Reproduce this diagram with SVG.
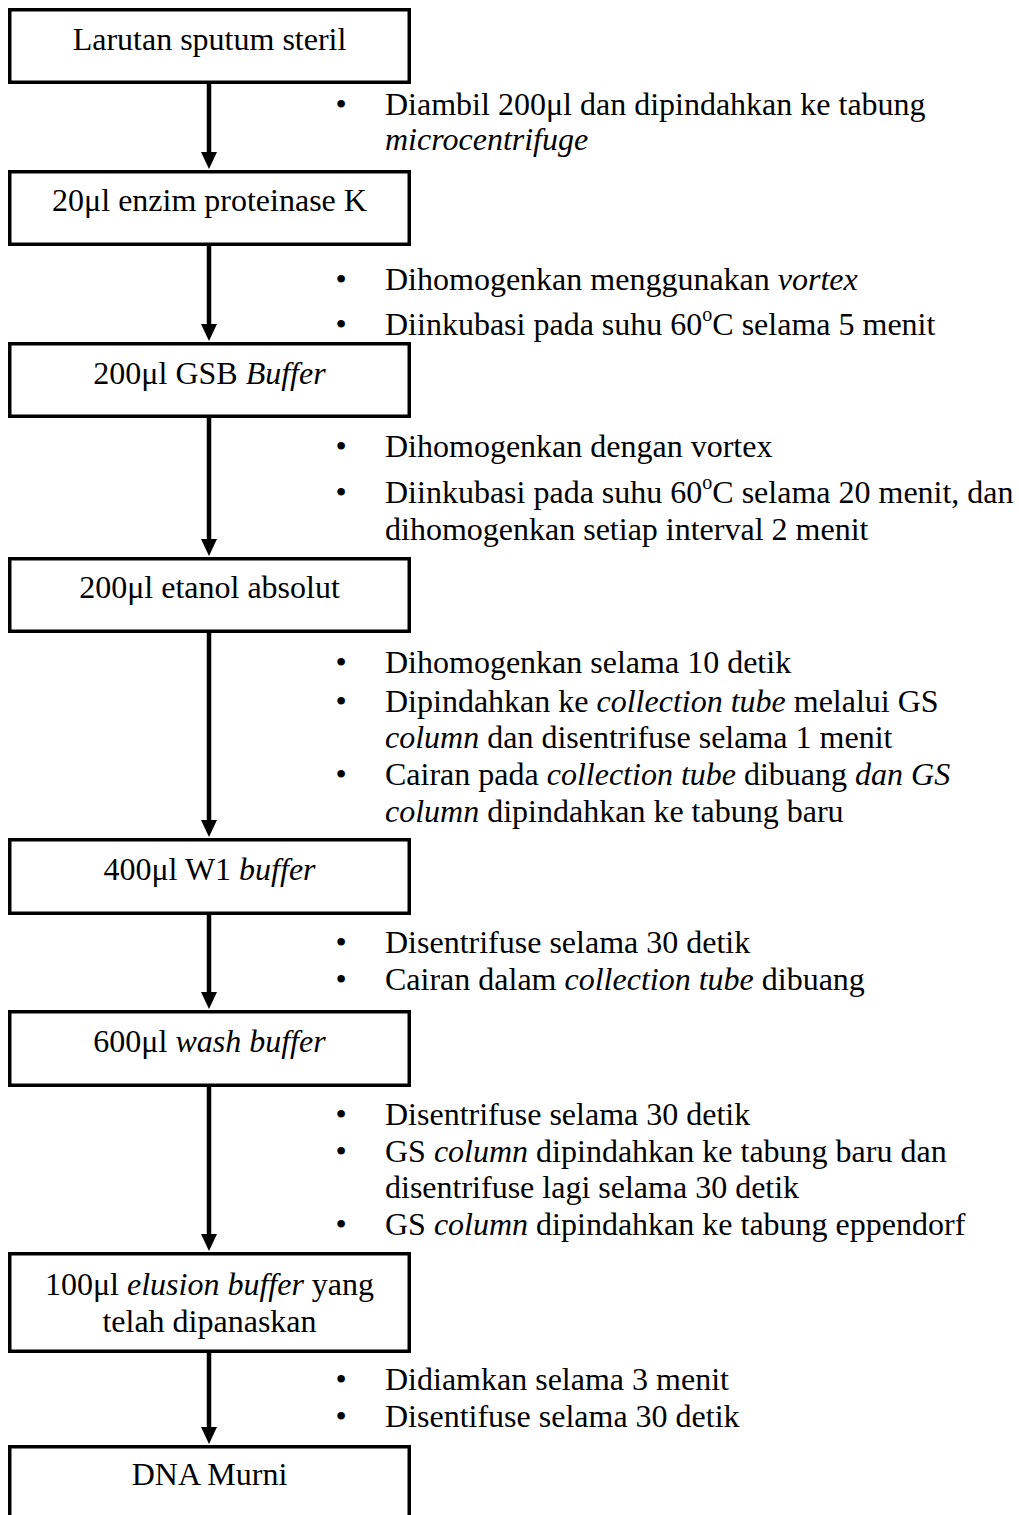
<svg xmlns="http://www.w3.org/2000/svg" width="1019" height="1515" viewBox="0 0 1019 1515">
<style>
text { font-family: "Liberation Serif", "Times New Roman", serif; font-size: 32px; fill: #000; }
.c { text-anchor: middle; }
.i { font-style: italic; }
.sup { font-size: 20px; }
.box { fill: #fff; stroke: #000; stroke-width: 3.5; }
.ln { stroke: #000; stroke-width: 4.5; fill: none; }
.hd { fill: #000; }
</style>
<rect width="1019" height="1515" fill="#fff"/>
<g id="connectors">
  <line class="ln" x1="209" y1="84" x2="209" y2="155"/><polygon class="hd" points="201,152 217,152 209,169"/>
  <line class="ln" x1="209" y1="246" x2="209" y2="327"/><polygon class="hd" points="201,324 217,324 209,341"/>
  <line class="ln" x1="209" y1="418" x2="209" y2="542"/><polygon class="hd" points="201,539 217,539 209,556"/>
  <line class="ln" x1="209" y1="633" x2="209" y2="823"/><polygon class="hd" points="201,820 217,820 209,837"/>
  <line class="ln" x1="209" y1="915" x2="209" y2="995"/><polygon class="hd" points="201,992 217,992 209,1009"/>
  <line class="ln" x1="209" y1="1087" x2="209" y2="1237"/><polygon class="hd" points="201,1234 217,1234 209,1251"/>
  <line class="ln" x1="209" y1="1353" x2="209" y2="1430"/><polygon class="hd" points="201,1427 217,1427 209,1444"/>
</g>
<g id="node1">
  <rect class="box" x="9.75" y="9.75" width="399.5" height="72.5"/>
  <text class="c" x="209.5" y="50">Larutan sputum steril</text>
</g>
<g id="note1">
  <text x="341" y="115" class="c">•</text>
  <text x="385" y="115">Diambil 200μl dan dipindahkan ke tabung</text>
  <text x="385" y="150" class="i">microcentrifuge</text>
</g>
<g id="node2">
  <rect class="box" x="9.75" y="171.75" width="399.5" height="72.5"/>
  <text class="c" x="209.5" y="211">20μl enzim proteinase K</text>
</g>
<g id="note2">
  <text x="341" y="290" class="c">•</text>
  <text x="385" y="290">Dihomogenkan menggunakan <tspan class="i">vortex</tspan></text>
  <text x="341" y="335" class="c">•</text>
  <text x="385" y="335">Diinkubasi pada suhu 60<tspan class="sup" dy="-14">o</tspan><tspan dy="14">C selama 5 menit</tspan></text>
</g>
<g id="node3">
  <rect class="box" x="9.75" y="343.75" width="399.5" height="72.5"/>
  <text class="c" x="209.5" y="384">200μl GSB <tspan class="i">Buffer</tspan></text>
</g>
<g id="note3">
  <text x="341" y="457" class="c">•</text>
  <text x="385" y="457">Dihomogenkan dengan vortex</text>
  <text x="341" y="503" class="c">•</text>
  <text x="385" y="503">Diinkubasi pada suhu 60<tspan class="sup" dy="-14">o</tspan><tspan dy="14">C selama 20 menit, dan</tspan></text>
  <text x="385" y="540">dihomogenkan setiap interval 2 menit</text>
</g>
<g id="node4">
  <rect class="box" x="9.75" y="558.75" width="399.5" height="72.5"/>
  <text class="c" x="209.5" y="598">200μl etanol absolut</text>
</g>
<g id="note4">
  <text x="341" y="673" class="c">•</text>
  <text x="385" y="673">Dihomogenkan selama 10 detik</text>
  <text x="341" y="712" class="c">•</text>
  <text x="385" y="712">Dipindahkan ke <tspan class="i">collection tube</tspan> melalui GS</text>
  <text x="385" y="748"><tspan class="i">column</tspan> dan disentrifuse selama 1 menit</text>
  <text x="341" y="785" class="c">•</text>
  <text x="385" y="785">Cairan pada <tspan class="i">collection tube</tspan> dibuang <tspan class="i">dan GS</tspan></text>
  <text x="385" y="822"><tspan class="i">column</tspan> dipindahkan ke tabung baru</text>
</g>
<g id="node5">
  <rect class="box" x="9.75" y="839.75" width="399.5" height="73.5"/>
  <text class="c" x="209.5" y="880">400μl W1 <tspan class="i">buffer</tspan></text>
</g>
<g id="note5">
  <text x="341" y="953" class="c">•</text>
  <text x="385" y="953">Disentrifuse selama 30 detik</text>
  <text x="341" y="990" class="c">•</text>
  <text x="385" y="990">Cairan dalam <tspan class="i">collection tube</tspan> dibuang</text>
</g>
<g id="node6">
  <rect class="box" x="9.75" y="1011.75" width="399.5" height="73.5"/>
  <text class="c" x="209.5" y="1052">600μl <tspan class="i">wash buffer</tspan></text>
</g>
<g id="note6">
  <text x="341" y="1125" class="c">•</text>
  <text x="385" y="1125">Disentrifuse selama 30 detik</text>
  <text x="341" y="1162" class="c">•</text>
  <text x="385" y="1162">GS <tspan class="i">column</tspan> dipindahkan ke tabung baru dan</text>
  <text x="385" y="1198">disentrifuse lagi selama 30 detik</text>
  <text x="341" y="1235" class="c">•</text>
  <text x="385" y="1235">GS <tspan class="i">column</tspan> dipindahkan ke tabung eppendorf</text>
</g>
<g id="node7">
  <rect class="box" x="9.75" y="1253.75" width="399.5" height="97.5"/>
  <text class="c" x="209.5" y="1295">100μl <tspan class="i">elusion buffer</tspan> yang</text>
  <text class="c" x="209.5" y="1332">telah dipanaskan</text>
</g>
<g id="note7">
  <text x="341" y="1390" class="c">•</text>
  <text x="385" y="1390">Didiamkan selama 3 menit</text>
  <text x="341" y="1427" class="c">•</text>
  <text x="385" y="1427">Disentifuse selama 30 detik</text>
</g>
<g id="node8">
  <path class="box" d="M9.75 1520 V1446.75 H409.25 V1520"/>
  <text class="c" x="209.5" y="1485">DNA Murni</text>
</g>
</svg>
